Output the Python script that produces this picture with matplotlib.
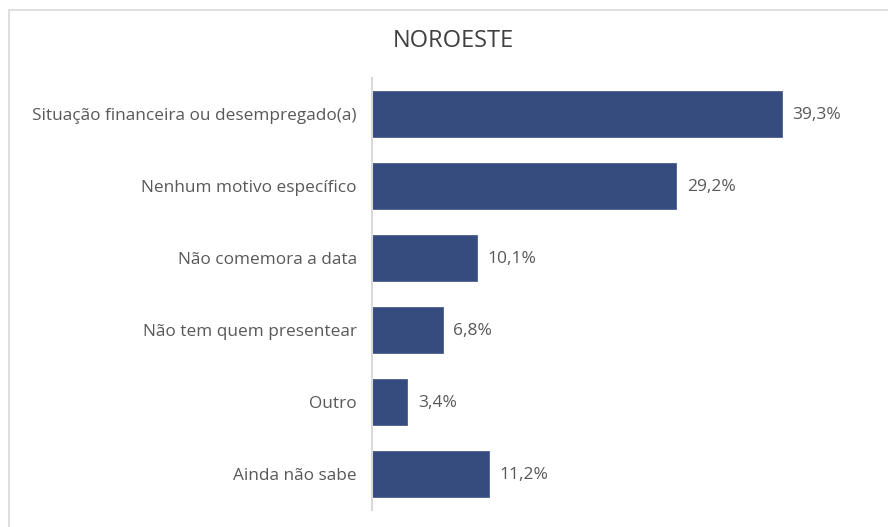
import numpy as np
import matplotlib.pyplot as plt
from matplotlib.patches import Rectangle

categories = ["Situação financeira ou desempregado(a)", "Nenhum motivo específico",
              "Não comemora a data", "Não tem quem presentear", "Outro", "Ainda não sabe"]
values = [39.3, 29.2, 10.1, 6.8, 3.4, 11.2]
value_labels = ["39,3%", "29,2%", "10,1%", "6,8%", "3,4%", "11,2%"]

plt.rcParams['font.family'] = ['Open Sans', 'DejaVu Sans']

fig = plt.figure(figsize=(8.88, 5.27), dpi=100)
ax = fig.add_axes([372/888, 17/527, (868-372)/888, (510-78)/527])

# moldura cinza clara
fig.patches.append(Rectangle((9/888, -0.1), 1.1, (527-10)/527 + 0.1, transform=fig.transFigure,
                             fill=False, edgecolor='#d9d9d9', linewidth=1.2))

y = np.arange(len(categories))
ax.barh(y, values, height=0.65, color='#364b7e', edgecolor='#4a5f8f', linewidth=0.6)
for yi, v, lab in zip(y, values, value_labels):
    ax.text(v + 1.0, yi + 0.02, lab, va='center', ha='left', fontsize=12.5, color='#595959')

ax.set_xlim(0, 47.6)
ax.set_ylim(len(categories) - 0.5, -0.5)
ax.set_yticks(y)
ax.set_yticklabels(categories, fontsize=12.4, color='#595959')
ax.tick_params(axis='y', length=0, pad=11)
ax.set_xticks([])
for s in ['top', 'right', 'bottom']:
    ax.spines[s].set_visible(False)
ax.spines['left'].set_color('#d9d9d9')
ax.spines['left'].set_linewidth(1.5)

fig.text(453/888, 1 - 41/527, "NOROESTE", ha='center', va='center', fontsize=17, color='#404040')

fig.savefig("out.png", dpi=100)
